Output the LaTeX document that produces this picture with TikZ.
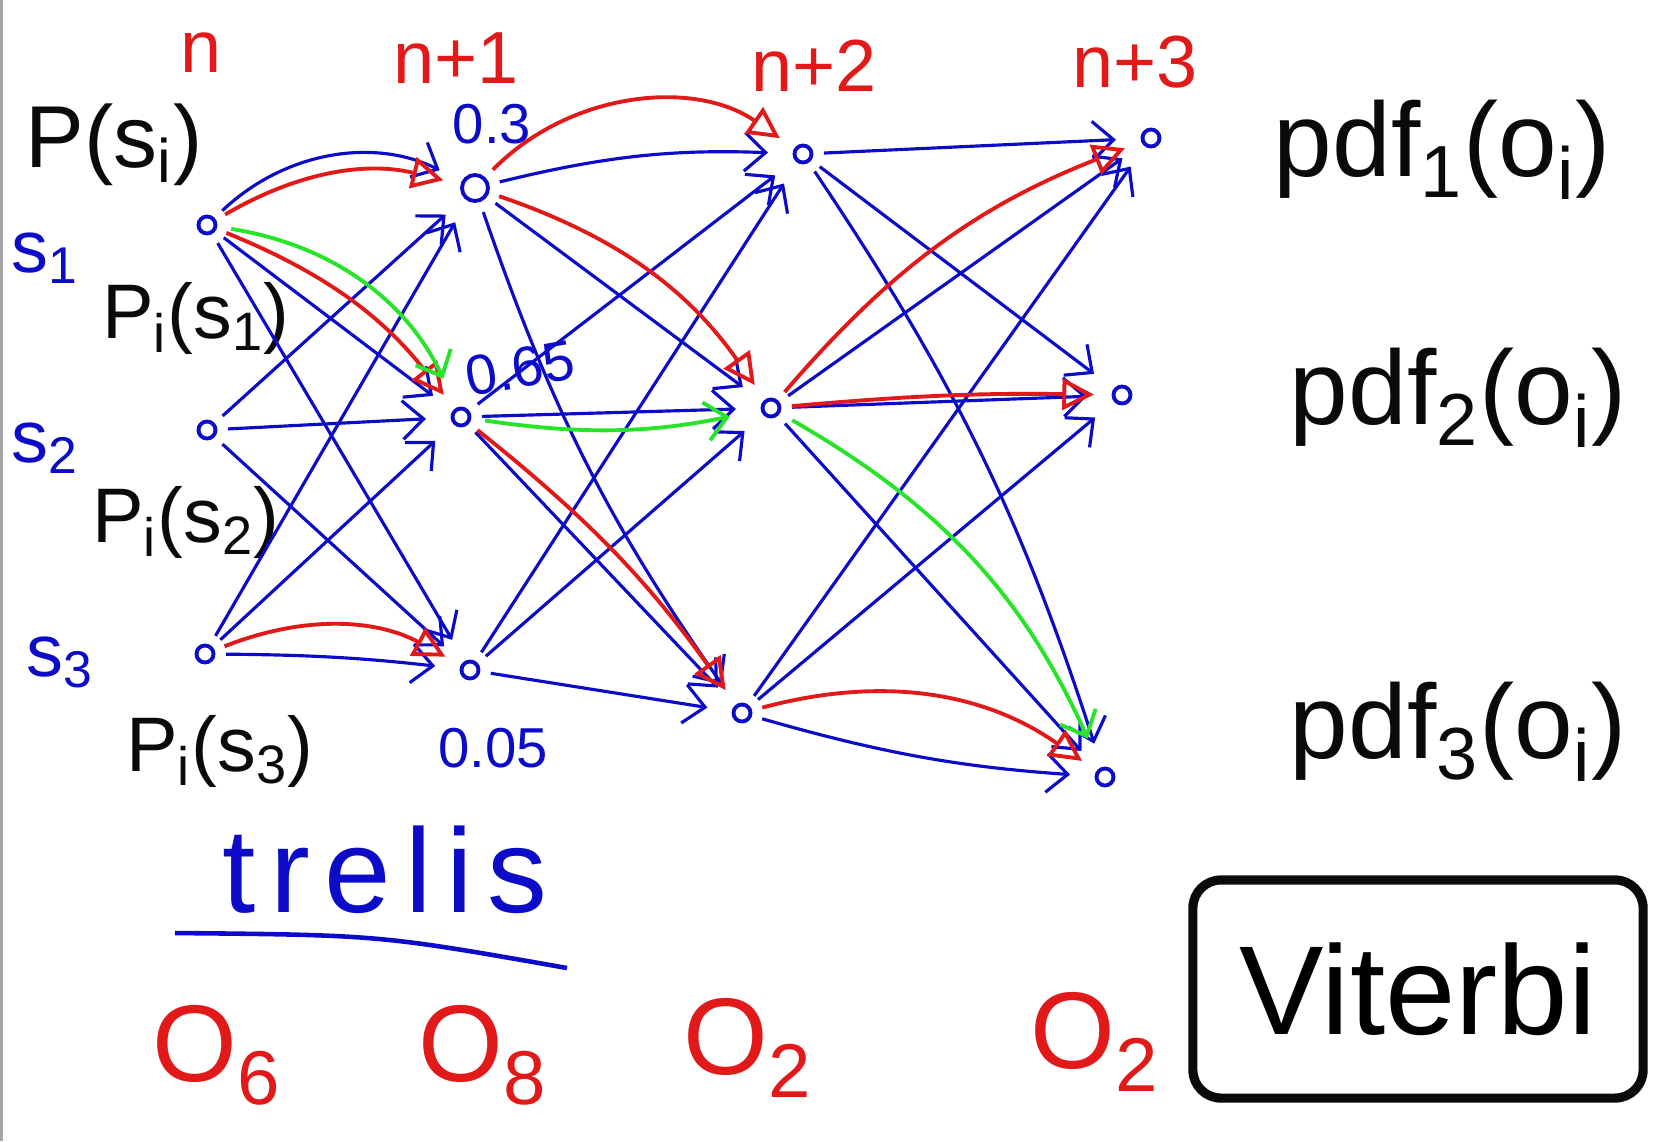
\documentclass[tikz,border=0pt]{standalone}
\usepackage{fontspec}
\setmainfont{Liberation Sans}
\usepackage{tikz}
\usetikzlibrary{arrows.meta, positioning}
\definecolor{penblue}{RGB}{12,12,200}
\definecolor{penred}{RGB}{225,25,25}
\definecolor{pengreen}{RGB}{40,228,40}
\definecolor{penblack}{RGB}{10,10,10}
\definecolor{edgegray}{RGB}{165,165,165}
\tikzset{
  trellisnode/.style={circle, draw=penblue, line width=1.1pt,
    minimum size=0.17cm, inner sep=0pt},
  trans/.style={-{Straight Barb[length=6pt,width=11pt]}, line width=0.9pt,
    color=penblue, shorten >=7pt, shorten <=3pt},
  bestpath/.style={-{Triangle[open,length=9pt,width=9pt]}, line width=1.1pt,
    color=penred, shorten >=5pt, shorten <=3pt},
  greenpath/.style={-{Straight Barb[length=6pt,width=11pt]}, line width=1.1pt,
    color=pengreen, shorten >=9pt, shorten <=4pt},
  steplabel/.style={color=penred, font=\fontsize{21}{24}\selectfont},
  obslabel/.style={color=penred, font=\fontsize{31}{34}\selectfont},
  statelabel/.style={color=penblue, font=\fontsize{21}{24}\selectfont},
  problabel/.style={color=penblue, font=\fontsize{16}{18}\selectfont},
  inklabel/.style={color=penblack, font=\fontsize{22}{24}\selectfont},
  pdflabel/.style={color=penblack, font=\fontsize{30}{34}\selectfont}
}

\begin{document}
\begin{tikzpicture}[x=0.01cm, y=-0.01cm]
  \useasboundingbox (0,0) rectangle (1663,1141);
  \draw[edgegray, line width=1.2pt] (1,0) -- (1,1141);

  % Time steps
  \node[steplabel] (stepn0) at (201,53) {n};
  \node[steplabel] (stepn1) at (456,58) {n+1};
  \node[steplabel] (stepn2) at (814,66) {n+2};
  \node[steplabel] (stepn3) at (1135,62) {n+3};

  % Trellis states
  \node[trellisnode] (t0s1) at (207,225) {};
  \node[trellisnode] (t0s2) at (207,430) {};
  \node[trellisnode] (t0s3) at (205,654) {};
  \node[trellisnode, minimum size=0.26cm] (t1s1) at (475,188) {};
  \node[trellisnode] (t1s2) at (461,417) {};
  \node[trellisnode] (t1s3) at (470,670) {};
  \node[trellisnode] (t2s1) at (803,154) {};
  \node[trellisnode] (t2s2) at (771,408) {};
  \node[trellisnode] (t2s3) at (742,713) {};
  \node[trellisnode] (t3s1) at (1151,138) {};
  \node[trellisnode] (t3s2) at (1122,395) {};
  \node[trellisnode] (t3s3) at (1105,777) {};

  % Initial and emission probabilities
  \node[inklabel, font=\fontsize{25}{28}\selectfont] (prior) at (114,145) {P(s\textsubscript{i})};
  \node[statelabel] (lbls1) at (45,258) {s\textsubscript{1}};
  \node[statelabel] (lbls2) at (45,448) {s\textsubscript{2}};
  \node[statelabel] (lbls3) at (60,662) {s\textsubscript{3}};
  \node[inklabel] (pis1) at (196,318) {P\textsubscript{i}(s\textsubscript{1})};
  \node[inklabel] (pis2) at (186,522) {P\textsubscript{i}(s\textsubscript{2})};
  \node[inklabel] (pis3) at (220,751) {P\textsubscript{i}(s\textsubscript{3})};
  \node[problabel] (prob1) at (492,124) {0.3};
  \node[problabel, rotate=10] (prob2) at (520,368) {0.65};
  \node[problabel] (prob3) at (493,748) {0.05};
  \node[pdflabel] (pdf1) at (1442,150) {pdf\textsubscript{1}(o\textsubscript{i})};
  \node[pdflabel] (pdf2) at (1458,398) {pdf\textsubscript{2}(o\textsubscript{i})};
  \node[pdflabel] (pdf3) at (1458,732) {pdf\textsubscript{3}(o\textsubscript{i})};

  % Transitions n -> n+1
  \draw[trans] (t0s1) to[bend left=35] (t1s1);
  \draw[trans] (t0s1) -- (t1s2);
  \draw[trans] (t0s1) -- (t1s3);
  \draw[trans] (t0s2) -- (t1s1);
  \draw[trans] (t0s2) -- (t1s2);
  \draw[trans] (t0s2) -- (t1s3);
  \draw[trans] (t0s3) -- (t1s1);
  \draw[trans] (t0s3) -- (t1s2);
  \draw[trans] (t0s3) to[bend left=3] (t1s3);

  % Transitions n+1 -> n+2
  \draw[trans] (t1s1) to[bend left=8] (t2s1);
  \draw[trans] (t1s1) -- (t2s2);
  \draw[trans] (t1s1) to[bend right=8] (t2s3);
  \draw[trans] (t1s2) -- (t2s1);
  \draw[trans] (t1s2) -- (t2s2);
  \draw[trans] (t1s2) -- (t2s3);
  \draw[trans] (t1s3) -- (t2s1);
  \draw[trans] (t1s3) -- (t2s2);
  \draw[trans] (t1s3) -- (t2s3);

  % Transitions n+2 -> n+3
  \draw[trans] (t2s1) -- (t3s1);
  \draw[trans] (t2s1) -- (t3s2);
  \draw[trans] (t2s1) to[bend left=8] (t3s3);
  \draw[trans] (t2s2) -- (t3s1);
  \draw[trans] (t2s2) -- (t3s2);
  \draw[trans] (t2s2) -- (t3s3);
  \draw[trans] (t2s3) -- (t3s1);
  \draw[trans] (t2s3) -- (t3s2);
  \draw[trans] (t2s3) to[bend right=6] (t3s3);

  % Highlighted paths
  \draw[bestpath] (t0s1) to[bend left=22] (t1s1);
  \draw[bestpath] (t0s1) to[bend left=15] (t1s2);
  \draw[bestpath] (t0s3) to[bend left=25] (t1s3);
  \draw[bestpath] (t1s1) to[bend left=40] (t2s1);
  \draw[bestpath] (t1s1) to[bend left=18] (t2s2);
  \draw[bestpath] (t1s2) to[bend left=8] (t2s3);
  \draw[bestpath] (t2s2) to[bend left=14] (t3s1);
  \draw[bestpath] (t2s2) to[bend left=3] (t3s2);
  \draw[bestpath] (t2s3) to[bend left=25] (t3s3);
  \draw[greenpath] (t0s1) to[bend left=28] (t1s2);
  \draw[greenpath] (t1s2) to[bend right=10] (t2s2);
  \draw[greenpath] (t2s2) to[bend left=18] (t3s3);

  % Caption and observations
  \node[statelabel, font=\fontsize{34}{38}\selectfont\addfontfeatures{LetterSpace=12}] (trelis) at (385,870) {trelis};
  \draw[penblue, line width=1.3pt] (175,933) .. controls (380,935) .. (567,968);
  \node[obslabel] (obs0) at (217,1055) {O\textsubscript{6}};
  \node[obslabel] (obs1) at (483,1055) {O\textsubscript{8}};
  \node[obslabel] (obs2) at (748,1048) {O\textsubscript{2}};
  \node[obslabel] (obs3) at (1095,1042) {O\textsubscript{2}};
  \node[draw=penblack, line width=2.6pt, rounded corners=8pt,
    minimum width=4.5cm, minimum height=2.18cm,
    font=\fontsize{36}{40}\selectfont] (viterbi) at (1418,989) {Viterbi};
\end{tikzpicture}
\end{document}
